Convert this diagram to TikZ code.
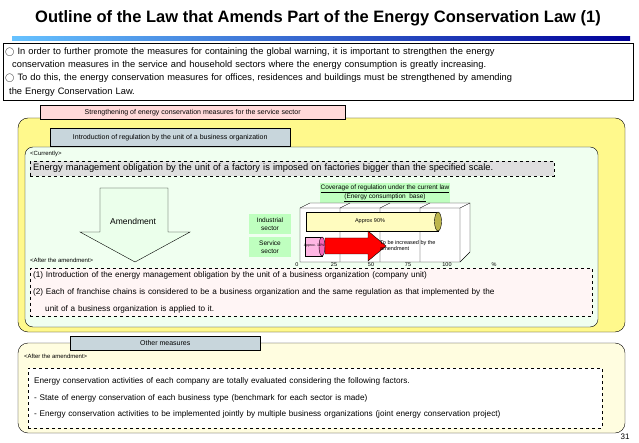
\documentclass[tikz,border=0pt]{standalone}
\usepackage{fontspec}
\setmainfont{Liberation Sans}
\usetikzlibrary{shapes.arrows,shapes.geometric}
\begin{document}
\begin{tikzpicture}[x=1pt,y=-1pt,
		tab/.style={draw=black, minimum height=14pt, font=\fontsize{7}{8}\selectfont, inner sep=2pt},
		dashbox/.style={draw=black, dashed, fill=#1, anchor=north west, align=left, font=\fontsize{8}{15}\selectfont, text width=550pt, inner sep=3pt},
		tagtext/.style={anchor=west, font=\fontsize{6}{7}\selectfont, inner sep=0pt},
		sector/.style={fill=green!25, align=center, font=\fontsize{6.5}{7.5}\selectfont, minimum width=42pt, minimum height=20pt, inner sep=0pt},
		axislabel/.style={font=\fontsize{5.5}{6}\selectfont, inner sep=0pt}
		]
		\useasboundingbox (0,0) rectangle (639,443);
		\fill[white] (0,0) rectangle (639,443);
		
		% title
		\node[font=\bfseries\fontsize{16.5}{18}\selectfont] (title) at (318,18) {Outline of the Law that Amends Part of the Energy Conservation Law (1)};
		\shade[left color=cyan!60!blue!60, right color=blue!60!black] (12,37) rectangle (630,41);
		\node[draw=black, anchor=north west, text width=626pt, align=left, inner sep=2pt, minimum height=57pt, font=\fontsize{9.3}{13.3}\selectfont] (intro) at (3,43)
			{$\bigcirc$\ In order to further promote the measures for containing the global warning, it is important to strengthen the energy\\
			\hspace*{7pt}conservation measures in the service and household sectors where the energy consumption is greatly increasing.\\
			$\bigcirc$\ To do this, the energy conservation measures for offices, residences and buildings must be strengthened by amending\\
			\hspace*{4pt}the Energy Conservation Law.};
		
		% service sector panel
		\draw[rounded corners=10pt, fill=yellow!45, draw=black] (18,118) rectangle (625,332);
		\draw[rounded corners=8pt, fill=green!6, draw=black] (25,147) rectangle (598,327);
		\node[tab, fill=pink!60, anchor=north west, minimum width=305pt] (service) at (40,105) {Strengthening of energy conservation measures for the service sector};
		\node[tab, fill=cyan!25!gray!40, anchor=north west, minimum width=240pt, minimum height=18pt] (unit) at (50,128) {Introduction of regulation by the unit of a business organization};
		\node[tagtext] (now) at (30,154) {<Currently>};
		\node[dashbox=gray!25, text width=518pt, font=\fontsize{9.3}{10}\selectfont] (current) at (30,161) {Energy management obligation by the unit of a factory is imposed on factories bigger than the specified scale.};
		
		% amendment arrow
		\draw[fill=green!8] (100,188) -- (168,188) -- (168,232) -- (190,232) -- (135,262) -- (80,232) -- (100,232) -- cycle;
		\node[font=\fontsize{8.5}{9}\selectfont] (amendtext) at (133,221) {Amendment};
		\node[tagtext] (after) at (30,260) {<After the amendment>};
		
		% chart
		\node[fill=green!25, align=center, font=\fontsize{6.5}{8}\selectfont, inner sep=1pt] (charttitle) at (385,193) {\underline{Coverage of regulation under the current law}\\\underline{(Energy consumption\ \ base)}};
		\draw[fill=white] (300,208) -- (310,203) -- (470,203) -- (470,252) -- (460,262) -- (300,262) -- cycle;
		\draw (300,208) -- (460,208) -- (470,203) (460,208) -- (460,262);
		\foreach \gx in {340,380,420} \draw (\gx,208) -- (\gx,262) (\gx,208) -- (\gx+10,203);
		\node[sector] (industrial) at (270,224) {Industrial\\sector};
		\node[sector] (servicesec) at (270,247) {Service\\sector};
		\draw[fill=yellow!25] (306,212) rectangle (438,231);
		\draw[fill=olive!60] (438,221.5) ellipse (3.5 and 9.5);
		\node[font=\fontsize{5.5}{6}\selectfont] (ninety) at (370,221) {Approx 90\%};
		\draw[fill=pink!70!magenta!60] (305,237) rectangle (322,256);
		\draw[fill=magenta!60] (322,246.5) ellipse (3 and 9.5);
		\node[font=\fontsize{3.5}{4}\selectfont] (ten) at (314,246) {Approx. 10\%};
		\draw[fill=red] (325,238) -- (368,238) -- (368,231) -- (386,246) -- (368,261) -- (368,254) -- (325,254) -- cycle;
		\node[anchor=west, align=left, font=\fontsize{5.5}{6}\selectfont, inner sep=0pt] (increasetext) at (380,246) {To be increased by the\\amendment};
		\foreach \v/\gx in {0/297,25/334,50/371,75/408,100/447}
			\node[axislabel] (ax\v) at (\gx,265) {\v};
		\node[axislabel] (axpct) at (494,265) {\%};
		
		\node[dashbox=pink!15, text width=556pt, font=\fontsize{8.2}{17}\selectfont] (items) at (30,268)
			{(1) Introduction of the energy management obligation by the unit of a business organization (company unit)\\
			(2) Each of franchise chains is considered to be a business organization and the same regulation as that implemented by the\\
			\hspace*{12pt}unit of a business organization is applied to it.};
		
		% other measures panel
		\draw[rounded corners=10pt, fill=yellow!12, draw=black] (18,343) rectangle (625,433);
		\node[tab, fill=cyan!25!gray!40, anchor=north west, minimum width=190pt] (other) at (70,336) {Other measures};
		\node[tagtext] (after2) at (24,356) {<After the amendment>};
		\node[dashbox=white, text width=562pt, font=\fontsize{8.2}{16.5}\selectfont, minimum height=60pt, inner sep=6pt] (factors) at (28,368)
			{Energy conservation activities of each company are totally evaluated considering the following factors.\\
			- State of energy conservation of each business type (benchmark for each sector is made)\\
			- Energy conservation activities to be implemented jointly by multiple business organizations (joint energy conservation project)};
		\node[font=\fontsize{8}{9}\selectfont] (page) at (625,437) {31};
	\end{tikzpicture}
\end{document}
